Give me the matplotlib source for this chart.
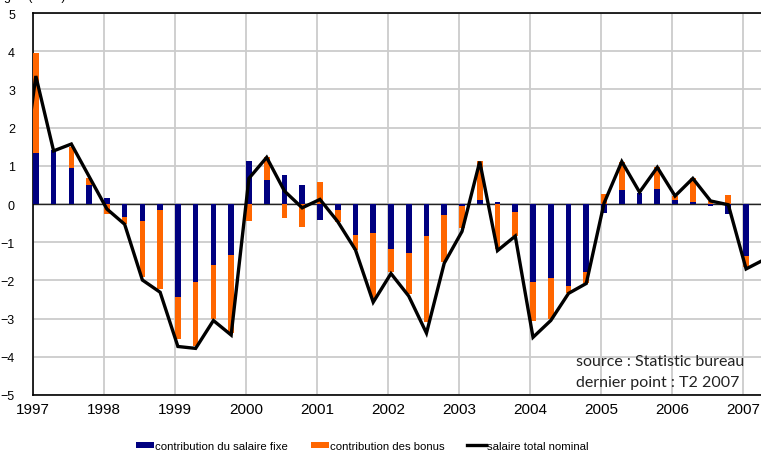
import numpy as np
import matplotlib
matplotlib.use("Agg")
import matplotlib.pyplot as plt

# quarterly data, 1997 Q1 -> 2007 Q1 for the bars
fixe = [1.34, 1.41, 0.94, 0.50,
        0.17, -0.35, -0.44, -0.17,
        -2.44, -2.04, -1.60, -1.33,
        1.13, 0.63, 0.76, 0.50,
        -0.41, -0.17, -0.82, -0.77,
        -1.19, -1.29, -0.84, -0.29,
        -0.04, 0.10, 0.04, -0.21,
        -2.05, -1.93, -2.14, -1.79,
        -0.24, 0.36, 0.30, 0.38,
        0.10, 0.04, -0.05, -0.26,
        -1.35]
bonus = [2.60, 0.00, 0.56, 0.19,
         -0.26, -0.17, -1.46, -2.06,
         -1.10, -1.67, -1.41, -2.04,
         -0.44, 0.59, -0.37, -0.59,
         0.58, -0.29, -0.38, -1.70,
         -0.58, -1.07, -2.26, -1.24,
         -0.60, 1.03, -1.18, -0.63,
         -1.01, -1.08, -0.20, -0.29,
         0.25, 0.75, 0.00, 0.58,
         0.11, 0.63, 0.09, 0.24,
         -0.31]
# total nominal wage, 1996 Q4 -> 2007 Q2 (ends clipped at the axes)
total = [-0.10,
         3.35, 1.39, 1.57, 0.72,
         -0.13, -0.53, -1.99, -2.31,
         -3.73, -3.78, -3.05, -3.43,
         0.67, 1.22, 0.34, -0.10,
         0.12, -0.46, -1.20, -2.57,
         -1.82, -2.41, -3.38, -1.55,
         -0.72, 1.11, -1.22, -0.84,
         -3.49, -3.05, -2.34, -2.08,
         0.02, 1.11, 0.31, 0.96,
         0.21, 0.67, 0.08, -0.02,
         -1.70, -1.46]
years = list(range(1997, 2008))

BLUE = "#000080"
ORANGE = "#FF6600"

fixe = np.array(fixe)
bonus = np.array(bonus)
xb = 1997.04 + 0.25 * np.arange(len(fixe))
xl = 1997.04 + 0.25 * (np.arange(len(total)) - 1)

# orange stacks on blue when same sign, otherwise starts from zero
bottom = np.where(np.sign(fixe) == np.sign(bonus), fixe, 0.0)

plt.rcParams["font.family"] = ["Liberation Sans", "DejaVu Sans"]
fig = plt.figure(figsize=(7.61, 4.56), dpi=100)
ax = fig.add_axes([33 / 761, 60 / 456, 728 / 761, 382 / 456])

b1 = ax.bar(xb, fixe, width=0.08, color=BLUE, zorder=3)
b2 = ax.bar(xb, bonus, width=0.08, bottom=bottom, color=ORANGE, zorder=3)
ln, = ax.plot(xl, total, color="black", lw=2.4, zorder=4, solid_joinstyle="miter")
ax.axhline(0, color="#222222", lw=1.0, zorder=2)

ax.set_xlim(1997, 2007.25)
ax.set_ylim(-5, 5)
ax.set_xticks(years)
ax.set_yticks(range(-5, 6))
ax.grid(True, color="#cccccc", lw=1.3, zorder=0)
ax.set_axisbelow(True)
ax.tick_params(length=0)
ax.tick_params(axis="x", labelsize=11, pad=5)
ax.tick_params(axis="y", labelsize=9, pad=13)
for s in ["left", "top", "bottom"]:
    ax.spines[s].set_color("black")
    ax.spines[s].set_linewidth(1.2)
ax.spines["right"].set_visible(False)

ax.text(2004.64, -4.11, "source : Statistic bureau", fontsize=11.5,
        family="Lato", va="center", color="#222222")
ax.text(2004.64, -4.66, "dernier point : T2 2007", fontsize=11.5,
        family="Lato", va="center", color="#222222")

# header text, mostly cut off at the top edge like the original
fig.text(0.005, 1.006, "g.a. (T/T-4)", fontsize=9, va="center")

fig.legend([b1, b2, ln],
           ["contribution du salaire fixe", "contribution des bonus", "salaire total nominal"],
           loc="center", bbox_to_anchor=(362 / 761, 1 - 447 / 456), ncol=3,
           frameon=False, fontsize=8.2, handlelength=1.6, handleheight=0.55,
           handletextpad=0.1, columnspacing=2.0)

fig.savefig("out.png", dpi=100)
